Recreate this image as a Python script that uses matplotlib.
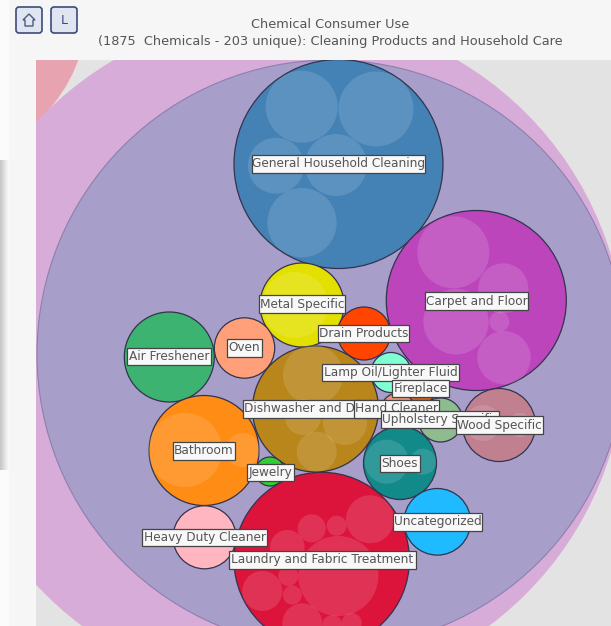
import matplotlib
matplotlib.use("Agg")
import matplotlib.pyplot as plt
from matplotlib.patches import Circle, FancyBboxPatch, Polygon, Rectangle
import numpy as np

title_lines = ["Chemical Consumer Use",
               "(1875  Chemicals - 203 unique): Cleaning Products and Household Care"]

# big enclosing circles (x, y, r in picture pixels)
outer_x = [-67.5, 285.5, 331]
outer_y = [7, 353.5, 354]
outer_r = [154.6, 339.5, 294]
outer_col = ["#e8a3b0", "#d8acd8", "#a79ec9"]
outer_edge = ["#e8a3b0", "#d8acd8", "#8e7fae"]

# one bubble per subcategory
bub_x = [338.5, 476.3, 302, 364, 244.5, 169.3, 391, 421, 398, 440.5, 499, 315.5, 204, 270, 400, 437.3, 204.5, 321.7]
bub_y = [164, 300.5, 305, 333.5, 348, 357, 372.5, 392, 410, 420, 425, 409, 450.5, 471.5, 463, 521.8, 537.3, 560]
bub_r = [104.5, 90, 42, 26.5, 30.2, 45, 20, 13, 17, 22, 36.5, 63, 55, 14.5, 36.5, 33.3, 31.5, 87.7]
bub_col = ["#4482b6", "#bc45bc", "#e3e000", "#ff4500", "#ffa07a", "#3cb371", "#7fffd4", "#c9601e", "#e9967a",
           "#8fbc8f", "#c0808f", "#b8861a", "#ff8c14", "#32cd32", "#128a8a", "#1fbaff", "#ffb6c1", "#dc143c"]

# lighter inner bubbles
sub_x = [301.7, 376, 276, 336, 302, 453.3, 503.3, 456, 499.3, 504, 295, 185, 243,
         313, 316.7, 345, 303, 386.7, 423, 483, 520,
         338.3, 370, 311.7, 336.7, 287.3, 262.3, 288.3, 292.3, 302.3, 332.3, 351.7]
sub_y = [106.7, 109, 165.7, 165, 222.7, 252.3, 288.3, 321.7, 321.7, 357.7, 305, 450, 450,
         375, 451.7, 423, 417, 461.7, 461.7, 423, 425,
         576, 519.3, 528.3, 525.7, 547.3, 591, 576, 595, 623.3, 625, 623]
sub_r = [36, 37.5, 28, 31, 34.7, 36, 25, 32.7, 10, 26.7, 33, 37, 17,
         30, 20, 22, 18, 22, 13, 18, 12,
         40, 24, 14, 10, 17.3, 20, 10, 9.5, 20, 10, 10]

# label boxes: left, right, top, bottom edges, in drawing order
box_left = [251.7, 424.7, 259.3, 318.3, 227.3, 127.3, 321.7, 392.3, 243.3, 354.3, 380.7, 456, 172.7, 246.7, 380, 393.3, 142.3, 229]
box_right = [425.3, 528.3, 345, 409.3, 261.7, 211.3, 459.3, 449, 387, 439.3, 499.3, 543.3, 235.3, 294, 420, 481.7, 266.7, 415.7]
box_top = [155.3, 292.3, 295.3, 324.7, 338.7, 348, 363.7, 380.3, 400.3, 400.3, 410.7, 416.3, 442, 463.7, 454.7, 513.3, 528.7, 551.3]
box_bot = [172.7, 309.7, 313.3, 342, 356.7, 365.3, 381, 397.3, 417.7, 417.7, 428, 433.7, 459.7, 480.7, 472, 530.7, 546, 568.7]
box_names = ["General Household Cleaning", "Carpet and Floor", "Metal Specific", "Drain Products", "Oven",
             "Air Freshener", "Lamp Oil/Lighter Fluid", "Fireplace", "Dishwasher and Dishes", "Hand Cleaner",
             "Upholstery Specific", "Wood Specific", "Bathroom", "Jewelry", "Shoes", "Uncategorized",
             "Heavy Duty Cleaner", "Laundry and Fabric Treatment"]

fig = plt.figure(figsize=(6.11, 6.26), dpi=100, facecolor="#f6f6f6")

# plot area
ax = fig.add_axes([36 / 611, 0, 575 / 611, 566 / 626])
ax.set_xlim(36, 611)
ax.set_ylim(626, 60)
ax.set_facecolor("#e3e3e3")
ax.set_xticks([])
ax.set_yticks([])
for s in ax.spines.values():
    s.set_visible(False)

for x, y, r, c, e in zip(outer_x, outer_y, outer_r, outer_col, outer_edge):
    ax.add_patch(Circle((x, y), r, fc=c, ec=e, lw=0.8))

for x, y, r, c in zip(bub_x, bub_y, bub_r, bub_col):
    ax.add_patch(Circle((x, y), r, fc=c, ec="#33334d", lw=0.9))

for x, y, r in zip(sub_x, sub_y, sub_r):
    ax.add_patch(Circle((x, y), r, fc="white", alpha=0.13, ec="none"))

# page strip on the left, with the shadow of the side panel
side = fig.add_axes([0, 0, 36 / 611, 1], zorder=5)
side.set_xlim(0, 36)
side.set_ylim(626, 0)
side.axis("off")
side.add_patch(Rectangle((0, 0), 36, 626, fc="#f6f6f6", ec="none"))
side.add_patch(Rectangle((0, 0), 9, 626, fc="#fbfbfb", ec="none"))
shadow = np.linspace(0.78, 0.97, 9).reshape(1, -1)
side.imshow(shadow, cmap="gray", vmin=0, vmax=1, extent=(0, 9, 470, 160), aspect="auto", zorder=3)
side.set_xlim(0, 36)
side.set_ylim(626, 0)

# buttons and title on top of everything, labels may cross the plot edge
top = fig.add_axes([0, 0, 1, 1], zorder=10)
top.set_xlim(0, 611)
top.set_ylim(626, 0)
top.axis("off")

for left in [16, 51]:
    top.add_patch(FancyBboxPatch((left + 2, 9), 22, 22, boxstyle="round,pad=2,rounding_size=3",
                                 fc="#dfe6f2", ec="#3d4b7a", lw=1.2))
top.add_patch(Polygon([(29, 14), (23, 20), (25, 20), (25, 26), (33, 26), (33, 20), (35, 20)],
                      closed=True, fc="none", ec="#4a5a80", lw=1))
top.text(64, 20, "L", ha="center", va="center", fontsize=9, color="#3d4b7a")

top.text(330.5, 25, title_lines[0], ha="center", va="center", fontsize=9.3, color="#555555")
top.text(330.5, 42, title_lines[1], ha="center", va="center", fontsize=9.3, color="#555555")

for k, name in enumerate(box_names):
    w = box_right[k] - box_left[k]
    h = box_bot[k] - box_top[k]
    top.add_patch(Rectangle((box_left[k], box_top[k]), w, h, fc="#f8f8f8", ec="#444444",
                            lw=0.9, zorder=10 + k))
    top.text(box_left[k] + w / 2, box_top[k] + h / 2, name, ha="center", va="center",
             fontsize=8.7, color="#555555", zorder=10 + k)

fig.savefig("out.png", dpi=100, facecolor=fig.get_facecolor())
